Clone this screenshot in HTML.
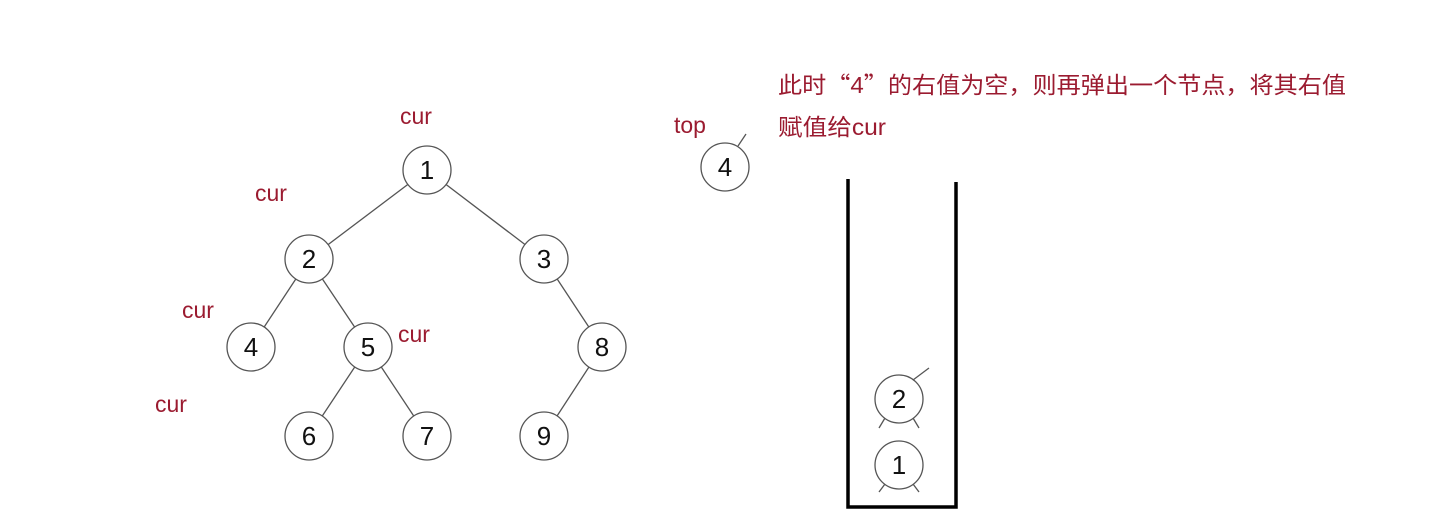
<!DOCTYPE html>
<html><head><meta charset="utf-8"><style>
html,body{margin:0;padding:0;background:#fff;}
svg{display:block;}
text{font-family:"Liberation Sans","Noto Sans CJK SC",sans-serif;}
.q{font-family:"Noto Sans CJK SC",sans-serif;}
</style></head><body>
<svg width="1438" height="530" viewBox="0 0 1438 530" xmlns="http://www.w3.org/2000/svg">
<g stroke="#555" stroke-width="1.3" fill="none">
<line x1="427" y1="170" x2="309" y2="259"/>
<line x1="427" y1="170" x2="544" y2="259"/>
<line x1="309" y1="259" x2="251" y2="347"/>
<line x1="309" y1="259" x2="368" y2="347"/>
<line x1="544" y1="259" x2="602" y2="347"/>
<line x1="368" y1="347" x2="309" y2="436"/>
<line x1="368" y1="347" x2="427" y2="436"/>
<line x1="602" y1="347" x2="544" y2="436"/>
<line x1="738" y1="146" x2="746" y2="134"/>
<line x1="913" y1="380" x2="929" y2="368"/>
<line x1="885" y1="418" x2="879" y2="428"/>
<line x1="913" y1="418" x2="919" y2="428"/>
<line x1="913" y1="484" x2="919" y2="492"/>
<line x1="885" y1="484" x2="879" y2="492"/>
</g>
<g stroke="#555" stroke-width="1.3" fill="#fff">
<circle cx="427" cy="170" r="24"/>
<circle cx="309" cy="259" r="24"/>
<circle cx="544" cy="259" r="24"/>
<circle cx="251" cy="347" r="24"/>
<circle cx="368" cy="347" r="24"/>
<circle cx="602" cy="347" r="24"/>
<circle cx="309" cy="436" r="24"/>
<circle cx="427" cy="436" r="24"/>
<circle cx="544" cy="436" r="24"/>
<circle cx="725" cy="167" r="24"/>
<circle cx="899" cy="399" r="24"/>
<circle cx="899" cy="465" r="24"/>
</g>
<g font-size="26" fill="#111" text-anchor="middle">
<text x="427" y="179">1</text>
<text x="309" y="268">2</text>
<text x="544" y="268">3</text>
<text x="251" y="356">4</text>
<text x="368" y="356">5</text>
<text x="602" y="356">8</text>
<text x="309" y="445">6</text>
<text x="427" y="445">7</text>
<text x="544" y="445">9</text>
<text x="725" y="176">4</text>
<text x="899" y="408">2</text>
<text x="899" y="474">1</text>
</g>
<g font-size="23" fill="#9b1b30">
<text x="400" y="124">cur</text>
<text x="255" y="201">cur</text>
<text x="182" y="318">cur</text>
<text x="398" y="342">cur</text>
<text x="155" y="412">cur</text>
<text x="674" y="133">top</text>
<text x="778" y="93" textLength="568" lengthAdjust="spacingAndGlyphs">此时<tspan class="q">“</tspan>4<tspan class="q">”</tspan>的右值为空，则再弹出一个节点，将其右值</text>
<text x="778" y="135" textLength="108" lengthAdjust="spacingAndGlyphs">赋值给cur</text>
</g>
<path d="M848 179 V507 H956 V182" stroke="#000" stroke-width="3.5" fill="none"/>
</svg>
</body></html>
